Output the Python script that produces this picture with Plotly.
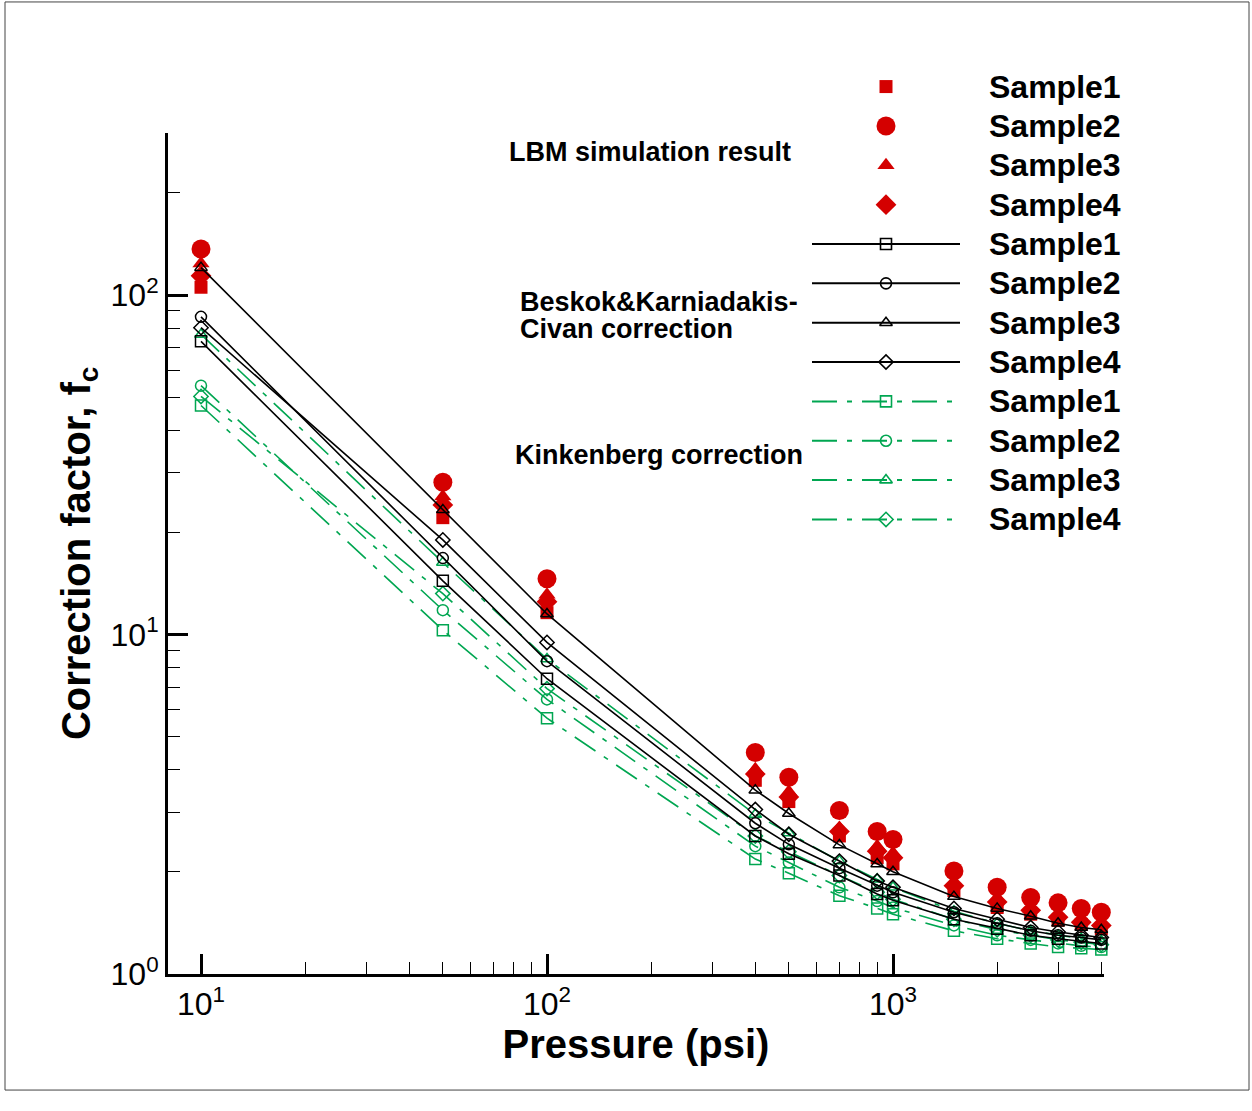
import math
import plotly.graph_objects as go

# ---------------- data ----------------
pressure = [10, 50, 100, 400, 500, 700, 900, 1000, 1500, 2000, 2500, 3000, 3500, 4000]

lbm_s1 = [105.5, 22.1, 11.6, 3.72, 3.22, 2.55, 2.20, 2.11, 1.76, 1.57, 1.50, 1.44, 1.40, 1.36]
lbm_s2 = [136.8, 28.1, 14.6, 4.49, 3.80, 3.03, 2.63, 2.49, 2.01, 1.80, 1.68, 1.62, 1.56, 1.52]
lbm_s3 = [124.0, 25.5, 13.1, 4.01, 3.44, 2.69, 2.38, 2.27, 1.86, 1.67, 1.56, 1.50, 1.44, 1.41]
lbm_s4 = [114.0, 24.1, 12.5, 3.88, 3.32, 2.63, 2.30, 2.20, 1.82, 1.63, 1.54, 1.47, 1.42, 1.39]

bk_s1 = [73.1, 14.4, 7.41, 2.55, 2.26, 1.95, 1.72, 1.65, 1.45, 1.36, 1.30, 1.27, 1.25, 1.23]
bk_s2 = [86.3, 16.8, 8.35, 2.78, 2.41, 2.05, 1.82, 1.74, 1.52, 1.41, 1.34, 1.30, 1.28, 1.26]
bk_s3 = [120.5, 23.3, 11.5, 3.48, 2.97, 2.40, 2.11, 2.00, 1.69, 1.56, 1.48, 1.41, 1.37, 1.35]
bk_s4 = [80.2, 19.0, 9.48, 3.05, 2.58, 2.15, 1.88, 1.80, 1.56, 1.45, 1.37, 1.33, 1.30, 1.28]

kl_s1 = [47.3, 10.3, 5.67, 2.18, 1.98, 1.70, 1.56, 1.50, 1.34, 1.27, 1.23, 1.20, 1.19, 1.18]
kl_s2 = [54.1, 11.8, 6.44, 2.38, 2.13, 1.80, 1.64, 1.57, 1.39, 1.30, 1.26, 1.23, 1.21, 1.20]
kl_s3 = [76.6, 16.3, 8.47, 2.95, 2.60, 2.15, 1.90, 1.80, 1.53, 1.41, 1.34, 1.30, 1.27, 1.25]
kl_s4 = [50.3, 13.2, 6.93, 2.55, 2.29, 1.95, 1.74, 1.66, 1.45, 1.35, 1.30, 1.26, 1.24, 1.22]

sample_names = ["Sample1", "Sample2", "Sample3", "Sample4"]
group_label_lines = [["LBM simulation result"],
                     ["Beskok&Karniadakis-", "Civan correction"],
                     ["Kinkenberg correction"]]

x_major = [10, 100, 1000]
x_major_text = ["10<sup>1</sup>", "10<sup>2</sup>", "10<sup>3</sup>"]
x_minor = [20, 30, 40, 50, 60, 70, 80, 90, 200, 300, 400, 500, 600, 700, 800, 900, 2000, 3000, 4000]
y_major = [1, 10, 100]
y_major_text = ["10<sup>0</sup>", "10<sup>1</sup>", "10<sup>2</sup>"]
y_minor = [2, 3, 4, 5, 6, 7, 8, 9, 20, 30, 40, 50, 60, 70, 80, 90, 200, 300]

# ---------------- style ----------------
W, H = 1252, 1111
RED = "#D40000"
GREEN = "#00A651"
BLACK = "#000000"
FONT = "Liberation Sans, Arial, sans-serif"
GREEN_DASH = "25px,10px,5px,10px"

red_symbols = ["square", "circle", "triangle-up", "diamond"]
red_sizes = [13, 19, 15, 16]
open_symbols = ["square-open", "circle-open", "triangle-up-open", "diamond-open"]

lbm = [lbm_s1, lbm_s2, lbm_s3, lbm_s4]
bk = [bk_s1, bk_s2, bk_s3, bk_s4]
kl = [kl_s1, kl_s2, kl_s3, kl_s4]

fig = go.Figure()

# LBM results (filled red markers)
for i, ys in enumerate(lbm):
    fig.add_trace(go.Scatter(
        x=pressure, y=ys, mode="markers", name="LBM " + sample_names[i],
        marker=dict(symbol=red_symbols[i], size=red_sizes[i], color=RED, line=dict(width=0)),
        xaxis="x", yaxis="y", cliponaxis=False))

# Klinkenberg (green dash-dot)
for i, ys in enumerate(kl):
    fig.add_trace(go.Scatter(
        x=pressure, y=ys, mode="lines+markers", name="Klinkenberg " + sample_names[i],
        line=dict(color=GREEN, width=1.6, dash=GREEN_DASH),
        marker=dict(symbol=open_symbols[i], size=11, color=GREEN, line=dict(width=1.5, color=GREEN)),
        xaxis="x", yaxis="y", cliponaxis=False))

# Beskok & Karniadakis-Civan (black solid)
for i, ys in enumerate(bk):
    fig.add_trace(go.Scatter(
        x=pressure, y=ys, mode="lines+markers", name="B&K-Civan " + sample_names[i],
        line=dict(color=BLACK, width=1.6),
        marker=dict(symbol=open_symbols[i], size=11, color=BLACK, line=dict(width=1.5, color=BLACK)),
        xaxis="x", yaxis="y", cliponaxis=False))

# ---------------- custom legend on a pixel-coordinate overlay axis ----------------
row0, row_step = 88, 40
leg_line_x0, leg_mark_x, leg_line_x1_black, leg_line_x1_green = 812, 886, 960, 952
leg_text_x = 987

annotations = []
for k in range(12):
    ry = row0 + row_step * k
    grp, i = divmod(k, 4)
    if grp == 0:
        fig.add_trace(go.Scatter(x=[leg_mark_x], y=[ry], mode="markers", showlegend=False,
                                 marker=dict(symbol=red_symbols[i], size=red_sizes[i], color=RED),
                                 xaxis="x2", yaxis="y2", hoverinfo="skip"))
    else:
        col = BLACK if grp == 1 else GREEN
        dash = "solid" if grp == 1 else GREEN_DASH
        x1 = leg_line_x1_black if grp == 1 else leg_line_x1_green
        fig.add_trace(go.Scatter(x=[leg_line_x0, x1], y=[ry, ry], mode="lines", showlegend=False,
                                 line=dict(color=col, width=2, dash=dash),
                                 xaxis="x2", yaxis="y2", hoverinfo="skip"))
        fig.add_trace(go.Scatter(x=[leg_mark_x], y=[ry], mode="markers", showlegend=False,
                                 marker=dict(symbol=open_symbols[i], size=11, color=col,
                                             line=dict(width=1.6, color=col)),
                                 xaxis="x2", yaxis="y2", hoverinfo="skip"))
    annotations.append(dict(x=leg_text_x / W, y=1 - ry / H, xref="paper", yref="paper",
                            text="<b>" + sample_names[i] + "</b>", showarrow=False,
                            xanchor="left", yanchor="middle",
                            font=dict(family=FONT, size=32, color=BLACK)))

# group labels (one annotation per text line)
group_pos = [[(507, 154)], [(518, 307), (518, 334)], [(513, 463)]]
for lines, poss in zip(group_label_lines, group_pos):
    for txt, (gx, gy) in zip(lines, poss):
        annotations.append(dict(x=gx / W, y=1 - gy / H, xref="paper", yref="paper",
                                text="<b>" + txt + "</b>", showarrow=False, align="left",
                                xanchor="left", yanchor="middle",
                                font=dict(family=FONT, size=27, color=BLACK)))

# ---------------- layout ----------------
px_left, px_right, px_top, px_bottom = 168, 1104, 135, 990
x_lo = 1 - (201 - px_left) / 346.0
x_hi = 3 + (px_right - 893) / 346.0
y_hi = 2 + (300 - px_top) / 345.0

fig.update_layout(
    width=W, height=H, autosize=False, margin=dict(l=0, r=0, t=0, b=0, pad=0),
    paper_bgcolor="white", plot_bgcolor="rgba(0,0,0,0)",
    showlegend=False, font=dict(family=FONT, color=BLACK),
    annotations=annotations,
    xaxis=dict(
        type="log", range=[x_lo, x_hi], domain=[px_left / W, px_right / W], anchor="y",
        showline=True, linewidth=3, linecolor=BLACK, showgrid=False, zeroline=False,
        ticks="inside", ticklen=20, tickwidth=3, tickcolor=BLACK,
        tickvals=x_major, ticktext=x_major_text, tickfont=dict(size=32, family=FONT),
        minor=dict(ticks="inside", ticklen=12, tickwidth=1, tickcolor=BLACK,
                   tickvals=x_minor, showgrid=False),
        title=dict(text="<b>Pressure (psi)</b>", font=dict(size=40, family=FONT), standoff=4),
    ),
    yaxis=dict(
        type="log", range=[0, y_hi], domain=[1 - px_bottom / H, 1 - px_top / H], anchor="x",
        showline=True, linewidth=3, linecolor=BLACK, showgrid=False, zeroline=False,
        ticks="inside", ticklen=20, tickwidth=3, tickcolor=BLACK,
        tickvals=y_major, ticktext=y_major_text, tickfont=dict(size=32, family=FONT),
        minor=dict(ticks="inside", ticklen=12, tickwidth=1, tickcolor=BLACK,
                   tickvals=y_minor, showgrid=False),
        title=dict(text="<b>Correction factor, f<sub>c</sub></b>", font=dict(size=40, family=FONT), standoff=8),
    ),
    xaxis2=dict(range=[0, W], domain=[0, 1], anchor="y2", visible=False, fixedrange=True),
    yaxis2=dict(range=[H, 0], domain=[0, 1], anchor="x2", visible=False, fixedrange=True),
    shapes=[dict(type="rect", xref="paper", yref="paper",
                 x0=5 / W, x1=1249 / W, y0=3 / H, y1=1 - 2 / H,
                 line=dict(color="#444444", width=1))],
)

fig.write_html("out.html")
